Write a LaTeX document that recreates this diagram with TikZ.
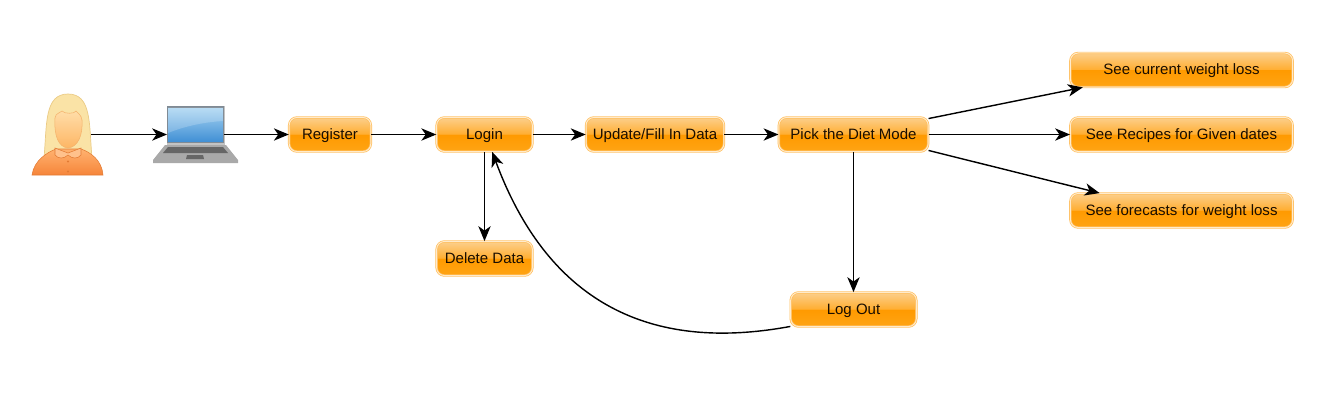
\documentclass[tikz,border=0pt]{standalone}
\usepackage{fontspec}
\setmainfont{Liberation Sans}
\usetikzlibrary{arrows.meta, shapes.geometric}
\definecolor{glosstop}{HTML}{FCCF8C}
\definecolor{glossmid}{HTML}{FFAE33}
\definecolor{glosslow}{HTML}{FF9A00}
\definecolor{glossend}{HTML}{FFA414}
\definecolor{rimouter}{HTML}{FFBE5C}
\definecolor{rimonner}{HTML}{FFEBCC}
\definecolor{hairlight}{HTML}{FAE3A6}
\definecolor{hairedge}{HTML}{EBCB85}
\definecolor{skinlight}{HTML}{FFDDA8}
\definecolor{skindark}{HTML}{FDB665}
\definecolor{skinedge}{HTML}{F4B26B}
\definecolor{shirtlight}{HTML}{FFB26F}
\definecolor{shirtdark}{HTML}{F6853A}
\definecolor{shirtedge}{HTML}{E27A33}
\definecolor{screenlight}{HTML}{A9D5F2}
\definecolor{screendark}{HTML}{3F8ED4}
\definecolor{casegrey}{HTML}{7F8A94}
\definecolor{basegrey}{HTML}{A9A9A9}
\definecolor{keygrey}{HTML}{666666}
\pgfdeclareverticalshading{glossy}{100bp}{
  color(0bp)=(glossend); color(25bp)=(glossend); color(50bp)=(glosslow);
  color(51bp)=(glossmid); color(75bp)=(glosstop); color(100bp)=(glosstop)}
\tikzset{
  stepbox/.style={rounded corners=4.5pt, shading=glossy, draw=rimouter, double=rimonner,
                  line width=0.4pt, double distance=0.55pt, font=\fontsize{8.55pt}{10pt}\selectfont,
                  text=black!90!orange, text height=6.6pt, text depth=1pt, minimum height=19.4pt, inner sep=0pt},
  flow/.style={-{Stealth[length=8.5pt, width=7pt, inset=2.5pt]}, line width=0.8pt, color=black},
}
\begin{document}
\begin{tikzpicture}[x=0.02cm, y=-0.02cm]
  \useasboundingbox (0,0) rectangle (1331,400);
  % actors
  \node[minimum width=26pt, minimum height=46pt, inner sep=0pt] (user) at (68,134.5) {};
  \node[minimum width=32pt, minimum height=20pt, inner sep=0pt] (laptop) at (195.5,134.5) {};
  % woman
  \draw[fill=hairlight, draw=hairedge, line width=0.4pt] (44,158) .. controls (47,125) and (44,94) .. (68,94)
    .. controls (92,94) and (89,125) .. (92,158) -- cycle;
  \draw[top color=shirtlight, bottom color=shirtdark, draw=shirtedge, line width=0.3pt] (32,175) .. controls (34,160) and (48,152) .. (56,149)
    -- (81,149) .. controls (90,152) and (102,160) .. (103,175) -- cycle;
  \draw[fill=shirtlight!80!white, draw=shirtedge, line width=0.3pt] (55,148) -- (68,153) -- (81,148) -- (81,155) .. controls (78,159) and (72,159) .. (68,155)
    .. controls (64,159) and (58,159) .. (55,155) -- cycle;
  \fill[shirtedge] (68,161.5) circle (1.2) (68,171.5) circle (1.2);
  \draw[top color=skinlight, bottom color=skindark, draw=skinedge, line width=0.3pt] (55,118) .. controls (56,112) and (60,114) .. (62,111)
    .. controls (64,114) and (75,114) .. (76,111) .. controls (78,114) and (81,114) .. (82,120)
    .. controls (83,135) and (78,147) .. (68,148) .. controls (58,147) and (54,135) .. (55,118) -- cycle;
  % laptop
  \draw[fill=basegrey, draw=none] (165,145) -- (226,145) -- (238,160) -- (238,163) -- (153,163) -- (153,160) -- cycle;
  \fill[keygrey] (168,147) -- (223,147) -- (228,153) -- (163,153) -- cycle;
  \fill[keygrey] (187,155) -- (203,155) -- (204,159) -- (186,159) -- cycle;
  \fill[basegrey!70!white] (166.5,105.5) rectangle (224.5,145);
  \draw[casegrey, line width=0.6pt, top color=screenlight, bottom color=screendark] (167.5,107) rectangle (223.5,142.5);
  \fill[white, opacity=0.2] (168,107.5) -- (223,107.5) -- (223,121) .. controls (205,122) and (185,126) .. (168,133) -- cycle;
  % boxes
  \node[stepbox, minimum width=46.5pt] (register) at (330,134.5) {Register};
  \node[stepbox, minimum width=54.5pt] (login) at (484.5,134.5) {Login};
  \node[stepbox, minimum width=78.5pt] (update) at (655,134.5) {Update/Fill In Data};
  \node[stepbox, minimum width=85pt] (pick) at (853.5,134.5) {Pick the Diet Mode};
  \node[stepbox, minimum width=54.5pt] (delete) at (484.5,258.5) {Delete Data};
  \node[stepbox, minimum width=71.5pt] (logout) at (853.5,309.5) {Log Out};
  \node[stepbox, minimum width=126.5pt] (current) at (1181.5,70) {See current weight loss};
  \node[stepbox, minimum width=126.5pt] (recipes) at (1181.5,134.5) {See Recipes for Given dates};
  \node[stepbox, minimum width=126.5pt] (forecasts) at (1181.5,210.5) {See forecasts for weight loss};
  % connectors
  \draw[flow] (user) -- (laptop);
  \draw[flow] (laptop) -- (register);
  \draw[flow] (register) -- (login);
  \draw[flow] (login) -- (update);
  \draw[flow] (update) -- (pick);
  \draw[flow] (pick) -- (recipes);
  \draw[flow] (pick.12) -- (current.190.6);
  \draw[flow] (pick.-12) -- (forecasts.168.3);
  \draw[flow] (login) -- (delete);
  \draw[flow] (pick) -- (logout);
  \draw[flow] (logout.195) .. controls (690,345) and (560,335) .. (login.-66);
\end{tikzpicture}
\end{document}
